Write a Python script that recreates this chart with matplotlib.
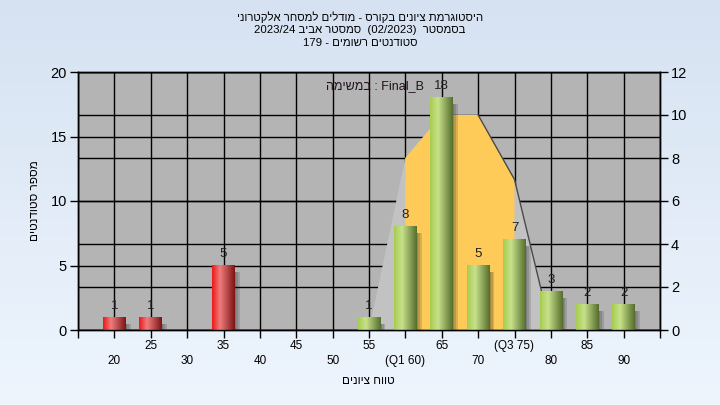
import re
import numpy as np
import matplotlib
matplotlib.use('Agg')
import matplotlib.pyplot as plt
from matplotlib.patches import Polygon, Rectangle
from matplotlib.transforms import blended_transform_factory

plt.rcParams['font.family'] = ['Liberation Sans', 'DejaVu Sans']

# texts (logical order, turned to visual order below)
title_lines = ['היסטוגרמת ציונים בקורס - מודלים למסחר אלקטרוני',
               'בסמסטר  (02/2023)  סמסטר אביב 2023/24',
               'סטודנטים רשומים - 179']
task_word = 'במשימה'
task_name = 'Final_B'
y_title = 'מספר סטודנטים'
x_title = 'טווח ציונים'

# histogram
bins = [20, 25, 35, 55, 60, 65, 70, 75, 80, 85, 90]
counts = [1, 1, 5, 1, 8, 18, 5, 7, 3, 2, 2]
pass_mark = 55

# curve on right axis
curve_x = [55, 60, 65, 70, 75, 80]
curve_y = [0, 8, 10, 10, 7, 0]
q1, q3 = 60, 75

xticks = list(range(15, 100, 5))
xlabels = ['', '\n20', '25\n', '\n30', '35\n', '\n40', '45\n', '\n50', '55\n',
           '\n(Q1 60)', '65\n', '\n70', '(Q3 75)\n', '\n80', '85\n', '\n90', '']
left_ticks = [0, 5, 10, 15, 20]
right_ticks = [0, 2, 4, 6, 8, 10, 12]


def rtl(s):
    # matplotlib has no bidi: reverse hebrew, keep numbers/latin runs
    tokens = re.findall(r'[0-9A-Za-z_/]+|.', s)
    return ''.join(reversed(tokens)).translate(str.maketrans('()', ')('))


def cylinder(c_left, c_mid, c_right, n=64):
    t = np.linspace(0, 1, n)
    c_left, c_mid, c_right = [np.array(c) / 255 for c in (c_left, c_mid, c_right)]
    out = np.zeros((n, 3))
    for i, v in enumerate(t):
        if v < 0.35:
            k = v / 0.35
            out[i] = c_left + (c_mid - c_left) * k
        else:
            k = (v - 0.35) / 0.65
            out[i] = c_mid + (c_right - c_mid) * k
    return out[None, :, :]


red_grad = cylinder((235, 25, 25), (240, 125, 125), (125, 20, 20))
green_grad = cylinder((165, 205, 80), (200, 225, 140), (85, 110, 45))

fig = plt.figure(figsize=(7.2, 4.05), dpi=100)

# background gradient
bg = fig.add_axes([0, 0, 1, 1], zorder=-10)
top = np.array([214, 226, 242]) / 255
bot = np.array([238, 245, 253]) / 255
g = np.linspace(0, 1, 256)[:, None, None]
bg.imshow(top + (bot - top) * g, aspect='auto', extent=(0, 1, 0, 1))
bg.axis('off')

ax = fig.add_axes([78 / 720, 75 / 405, 582 / 720, 258 / 405])
ax.set_facecolor('#b4b4b4')
ax2 = ax.twinx()
ax2.set_ylim(0, 12)

# grid
ax.set_axisbelow(True)
ax.grid(True, color='black', lw=1)
tr = blended_transform_factory(ax.transAxes, ax2.transData)
for v in right_ticks:
    ax.plot([0, 1], [v, v], transform=tr, color='black', lw=1, zorder=0.5)

# curve area (right axis units)
pts = list(zip(curve_x, curve_y))
ax.add_patch(Polygon(pts, closed=True, facecolor='#c2c2c2', edgecolor='none',
                     transform=ax2.transData, zorder=1))
mid = [(x, y) for x, y in pts if q1 <= x <= q3]
ax.add_patch(Polygon([(q1, 0)] + mid + [(q3, 0)], closed=True, facecolor='#fecb58',
                     edgecolor='none', transform=ax2.transData, zorder=1.2))
ax.plot(curve_x[3:], curve_y[3:], transform=ax2.transData, color='#4a4a4a', lw=1, zorder=1.5)

# bars
w = 3.1
for x, c in zip(bins, counts):
    grad = red_grad if x < pass_mark else green_grad
    for k in range(3):
        ax.add_patch(Rectangle((x + w / 2 - 0.1, -0.3), 0.3 + 0.25 * k, c - 0.2,
                               facecolor='#202020', alpha=0.16, edgecolor='none', zorder=2.5))
    ax.imshow(grad, extent=(x - w / 2, x + w / 2, 0, c), aspect='auto',
              interpolation='bilinear', zorder=3)
    ax.annotate(str(c), (x, c), xytext=(0, 4), textcoords='offset points',
                ha='center', va='bottom', fontsize=9.5, color='#202020', zorder=4)

ax.text(49.1, 18.9, rtl(task_word) + ' : ' + task_name, ha='left', va='center',
        fontsize=9, color='#201020', zorder=4)

ax.set_xlim(15, 95)
ax.set_ylim(0, 20)
ax2.set_ylim(0, 12)

ax.set_xticks(xticks)
ax.set_xticklabels(xlabels, fontsize=8.5, linespacing=1.3)
ax.set_yticks(left_ticks)
ax.tick_params(axis='x', length=6, width=1, color='black', pad=1.5)
ax.tick_params(axis='y', length=6, width=1, color='black', labelsize=10.5, pad=2)
ax2.set_yticks(right_ticks)
ax2.tick_params(axis='y', length=6, width=1, color='black', labelsize=10.5, pad=2)
for a in (ax, ax2):
    for s in a.spines.values():
        s.set_color('black')
        s.set_linewidth(1)

# titles
for i, line in enumerate(title_lines):
    fig.text(360 / 720, 1 - (17 + 13 * i) / 405, rtl(line), ha='center', va='center', fontsize=8.2)
fig.text(35 / 720, 1 - 201 / 405, rtl(y_title), rotation=90, ha='center', va='center', fontsize=8.5)
fig.text(368 / 720, 1 - 381 / 405, rtl(x_title), ha='center', va='center', fontsize=8.5)

fig.savefig('out.png', dpi=100)
